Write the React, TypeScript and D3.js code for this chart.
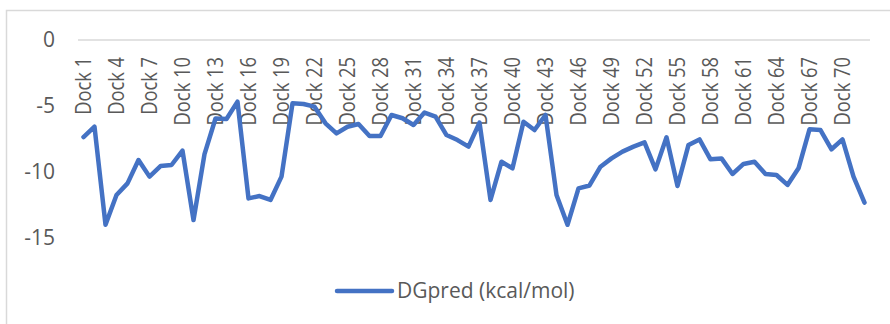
import React from "react";
import * as d3 from "d3";

// Predicted binding free energy for each docking pose
const dockNames: string[] = Array.from({ length: 72 }, (_, i) => `Dock ${i + 1}`);
const dgPred: number[] = [
  -7.35, -6.57, -14.0, -11.74, -10.86, -9.09, -10.35, -9.55, -9.47, -8.38,
  -13.64, -8.64, -5.95, -5.98, -4.67, -12.0, -11.82, -12.12, -10.35, -4.8,
  -4.85, -5.05, -6.31, -7.07, -6.57, -6.36, -7.27, -7.27, -5.68, -5.93,
  -6.44, -5.5, -5.81, -7.2, -7.58, -8.08, -6.26, -12.12, -9.22, -9.72,
  -6.19, -6.82, -5.68, -11.74, -14.0, -11.24, -11.02, -9.6, -8.97, -8.46,
  -8.08, -7.75, -9.8, -7.37, -11.06, -7.95, -7.53, -9.04, -8.97, -10.15,
  -9.39, -9.22, -10.15, -10.23, -10.98, -9.72, -6.77, -6.82, -8.28, -7.53,
  -10.35, -12.32,
];
const yTicks: number[] = [0, -5, -10, -15];
const seriesName = "DGpred (kcal/mol)";

const W = 890;
const H = 324;
const plot = { left: 78, right: 870, top: 40, bottom: 238 };
const font = "'Open Sans', 'Liberation Sans', sans-serif";
const textColor = "#595959";
const lineColor = "#4472C4";
const labelSize = 21;

// narrow-face advance widths (em) used to keep the category labels compact
const glyphEm: Record<string, number> = {
  D: 0.615, o: 0.527, c: 0.423, k: 0.455, " ": 0.226,
};
const labelWidth = (s: string) =>
  s.split("").reduce((w, ch) => w + (glyphEm[ch] ?? 0.507), 0) * labelSize;

export default function App() {
  const x = d3
    .scaleBand<string>()
    .domain(dockNames)
    .range([plot.left, plot.right]);
  const y = d3.scaleLinear().domain([0, -15]).range([plot.top, plot.bottom]);
  const cx = (name: string) => (x(name) ?? 0) + x.bandwidth() / 2;

  const line = d3
    .line<number>()
    .x((_, i) => cx(dockNames[i]))
    .y((d) => y(d));

  const labelled = dockNames.filter((_, i) => i % 3 === 0);

  return (
    <svg
      width={W}
      height={H}
      style={{ position: "absolute", left: 0, top: 0, background: "#fff" }}
      fontFamily={font}
    >
      {/* chart frame */}
      <rect x={6.5} y={10.5} width={W} height={H} fill="#fff" stroke="#D9D9D9" strokeWidth={1.5} />

      {/* category axis sits at zero */}
      <line x1={plot.left} x2={plot.right} y1={y(0)} y2={y(0)} stroke="#D9D9D9" strokeWidth={1.5} />

      {/* value axis labels */}
      {yTicks.map((t) => (
        <text
          key={t}
          x={55}
          y={y(t)}
          dy="0.35em"
          textAnchor="end"
          fontSize={21}
          fill={textColor}
        >
          {t === 0 ? "0" : `-${Math.abs(t)}`}
        </text>
      ))}

      {/* category labels, rotated, hanging below the zero line */}
      {labelled.map((name) => (
        <text
          key={name}
          transform={`translate(${cx(name)},57) rotate(-90)`}
          dy="0.36em"
          textAnchor="end"
          fontSize={labelSize}
          textLength={labelWidth(name)}
          lengthAdjust="spacingAndGlyphs"
          fill={textColor}
        >
          {name}
        </text>
      ))}

      {/* series */}
      <path
        d={line(dgPred) ?? ""}
        fill="none"
        stroke={lineColor}
        strokeWidth={4.5}
        strokeLinejoin="round"
        strokeLinecap="round"
      />

      {/* legend */}
      <line x1={337} x2={392} y1={291} y2={291} stroke={lineColor} strokeWidth={4.5} strokeLinecap="round" />
      <text x={397} y={291} dy="0.35em" fontSize={21} fill={textColor}>
        {seriesName}
      </text>
    </svg>
  );
}
